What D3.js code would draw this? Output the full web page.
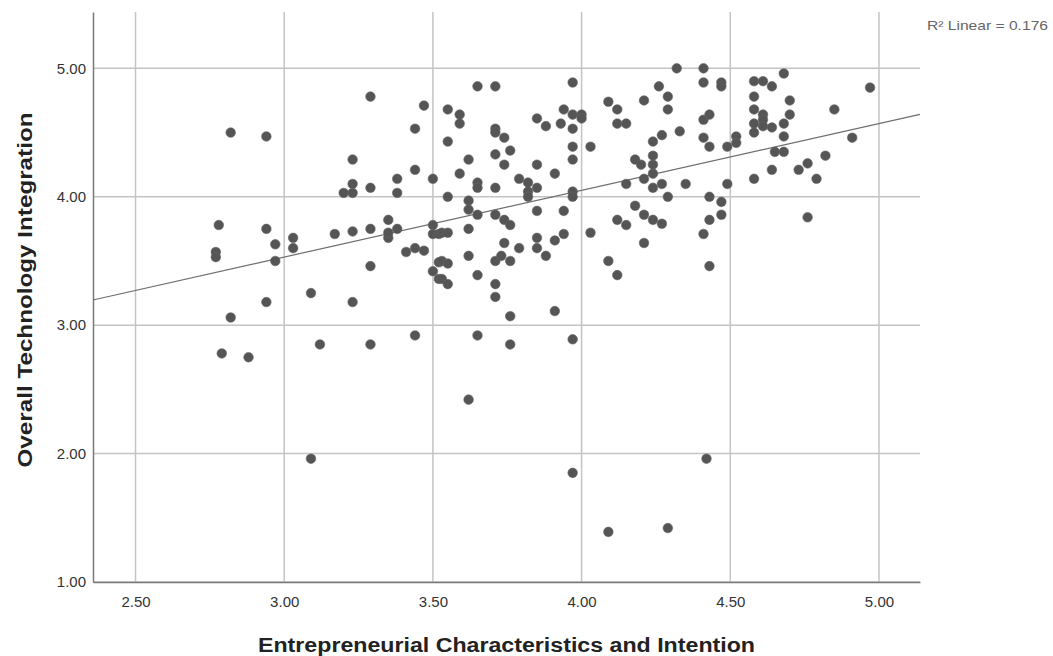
<!DOCTYPE html>
<html>
<head>
<meta charset="utf-8">
<script src="https://cdn.jsdelivr.net/npm/d3@7"></script>
<style>
  body { margin: 0; background: #fff; }
  text { font-family: Arial, "Liberation Sans", sans-serif; }
</style>
</head>
<body>
<div id="chart"></div>
<script>
var width = 1053;
var height = 656;

// values
var xValues = [
  2.77, 2.77, 2.78, 2.82, 2.94, 2.94, 3.03, 3.03, 2.97, 2.97,
  2.94, 2.82, 2.79, 2.88, 3.09, 3.12, 3.23, 3.29, 3.44, 3.09,
  3.29, 3.41, 3.44, 3.47, 3.50, 3.52, 3.52, 3.35, 3.35, 3.35,
  3.29, 3.47, 3.44, 3.23, 3.44, 3.50, 3.38, 3.23, 3.29, 3.20,
  3.23, 3.38, 3.38, 3.50, 3.50, 3.17, 3.23, 3.29, 3.52,
  3.65, 3.71, 3.97, 3.55, 3.59, 3.59, 3.71, 3.71, 3.74, 3.55,
  3.71, 3.76, 3.74, 3.62, 3.59, 3.65, 3.65, 3.71, 3.55, 3.79,
  3.82, 3.85, 3.82, 3.82, 3.85, 3.91, 3.85, 3.88, 3.93, 3.94,
  3.97, 4.00, 4.00, 3.97, 3.97, 3.97, 3.97, 3.97, 4.09, 4.12,
  4.12, 4.15, 4.03, 4.15, 3.62, 3.62, 3.65, 3.53, 3.55, 3.62,
  3.71, 3.74, 3.76, 3.85, 3.94, 4.12, 4.15, 4.03,
  3.74, 3.79, 3.85, 3.85, 3.91, 3.94, 3.88, 3.62, 3.53, 3.55,
  3.53, 3.55, 3.65, 3.71, 3.73, 3.76, 3.71, 3.71, 3.76, 3.91,
  3.65, 3.76, 3.97, 3.62, 3.97, 4.09, 4.09, 4.12,
  4.32, 4.41, 4.41, 4.47, 4.47, 4.26, 4.29, 4.21, 4.29, 4.41,
  4.43, 4.33, 4.27, 4.24, 4.41, 4.43, 4.49, 4.24, 4.24, 4.18,
  4.20, 4.24, 4.21, 4.24, 4.27, 4.35, 4.49, 4.29, 4.43, 4.47,
  4.18, 4.21, 4.24, 4.27, 4.43, 4.47,
  4.68, 4.58, 4.61, 4.64, 4.58, 4.58, 4.61, 4.61, 4.58, 4.58,
  4.61, 4.64, 4.52, 4.52, 4.70, 4.70, 4.68, 4.68, 4.65, 4.68,
  4.85, 4.91, 4.82, 4.76, 4.73, 4.79, 4.64, 4.58, 4.76, 4.97,
  4.42, 4.29, 4.43, 4.41, 4.21
];
var yValues = [
  3.57, 3.53, 3.78, 4.50, 4.47, 3.75, 3.68, 3.60, 3.63, 3.50,
  3.18, 3.06, 2.78, 2.75, 3.25, 2.85, 3.18, 2.85, 2.92, 1.96,
  3.46, 3.57, 3.60, 3.58, 3.42, 3.49, 3.36, 3.68, 3.72, 3.82,
  4.78, 4.71, 4.53, 4.29, 4.21, 4.14, 4.14, 4.10, 4.07, 4.03,
  4.03, 4.03, 3.75, 3.78, 3.71, 3.71, 3.73, 3.75, 3.71,
  4.86, 4.86, 4.89, 4.68, 4.64, 4.57, 4.53, 4.50, 4.46, 4.43,
  4.33, 4.36, 4.25, 4.29, 4.18, 4.11, 4.07, 4.07, 4.00, 4.14,
  4.11, 4.07, 4.04, 4.00, 4.25, 4.18, 4.61, 4.55, 4.57, 4.68,
  4.64, 4.64, 4.61, 4.53, 4.39, 4.29, 4.04, 4.00, 4.74, 4.68,
  4.57, 4.57, 4.39, 4.10, 3.97, 3.90, 3.86, 3.72, 3.72, 3.75,
  3.86, 3.82, 3.78, 3.89, 3.89, 3.82, 3.78, 3.72,
  3.64, 3.60, 3.68, 3.60, 3.66, 3.71, 3.54, 3.54, 3.50, 3.48,
  3.36, 3.32, 3.39, 3.50, 3.54, 3.50, 3.32, 3.22, 3.07, 3.11,
  2.92, 2.85, 2.89, 2.42, 1.85, 1.39, 3.50, 3.39,
  5.00, 5.00, 4.89, 4.89, 4.86, 4.86, 4.78, 4.75, 4.68, 4.60,
  4.64, 4.51, 4.48, 4.43, 4.46, 4.39, 4.39, 4.32, 4.25, 4.29,
  4.25, 4.18, 4.14, 4.07, 4.10, 4.10, 4.10, 4.00, 4.00, 3.96,
  3.93, 3.86, 3.82, 3.79, 3.82, 3.86,
  4.96, 4.90, 4.90, 4.86, 4.78, 4.68, 4.64, 4.60, 4.57, 4.50,
  4.55, 4.54, 4.47, 4.42, 4.75, 4.64, 4.57, 4.47, 4.35, 4.35,
  4.68, 4.46, 4.32, 4.26, 4.21, 4.14, 4.21, 4.14, 3.84, 4.85,
  1.96, 1.42, 3.46, 3.71, 3.64
];
var xTicks = [2.5, 3.0, 3.5, 4.0, 4.5, 5.0];
var yTicks = [1, 2, 3, 4, 5];
var r2Label = "R\u00b2 Linear = 0.176";

var points = xValues.map(function(x, i) {
  return { x: x, y: yValues[i] };
});

// least squares fit line
var mx = d3.mean(xValues);
var my = d3.mean(yValues);
var sxy = d3.sum(points, function(d) { return (d.x - mx) * (d.y - my); });
var sxx = d3.sum(points, function(d) { return (d.x - mx) * (d.x - mx); });
var slope = sxy / sxx;
var intercept = my - slope * mx;

var plotLeft = 93, plotRight = 920, plotTop = 12, plotBottom = 582;
var xMin = 2.357, xMax = 5.138;

var x = d3.scaleLinear().domain([xMin, xMax]).range([plotLeft, plotRight]);
var y = d3.scaleLinear().domain([1, 5.439]).range([plotBottom, plotTop]);

var svg = d3
  .select("#chart")
  .append("svg")
  .attr("width", width)
  .attr("height", height);

// grid
svg.append("g")
  .selectAll("line")
  .data(yTicks)
  .enter()
  .append("line")
  .attr("x1", plotLeft)
  .attr("x2", plotRight)
  .attr("y1", function(d) { return y(d); })
  .attr("y2", function(d) { return y(d); })
  .attr("stroke", "#c4c4c4")
  .attr("stroke-width", 1.5);

svg.append("g")
  .selectAll("line")
  .data(xTicks)
  .enter()
  .append("line")
  .attr("x1", function(d) { return x(d); })
  .attr("x2", function(d) { return x(d); })
  .attr("y1", plotTop)
  .attr("y2", plotBottom)
  .attr("stroke", "#c4c4c4")
  .attr("stroke-width", 1.5);

// axes
var xAxis = d3.axisBottom(x).tickValues(xTicks).tickFormat(d3.format(".2f")).tickSize(0).tickPadding(14);
var yAxis = d3.axisLeft(y).tickValues(yTicks).tickFormat(d3.format(".2f")).tickSize(0).tickPadding(7);

var gx = svg.append("g").attr("transform", "translate(0," + plotBottom + ")").call(xAxis);
var gy = svg.append("g").attr("transform", "translate(" + plotLeft + ",0)").call(yAxis);

[gx, gy].forEach(function(g) {
  g.select(".domain").attr("stroke", "#7a7a7a").attr("stroke-width", 1.5);
  g.selectAll("text").attr("fill", "#333").style("font-size", "15px");
});

// fit line
svg.append("line")
  .attr("x1", x(xMin))
  .attr("y1", y(intercept + slope * xMin))
  .attr("x2", x(xMax))
  .attr("y2", y(intercept + slope * xMax))
  .attr("stroke", "#6e6e6e")
  .attr("stroke-width", 1.2);

// points
svg.append("g")
  .selectAll("circle")
  .data(points)
  .enter()
  .append("circle")
  .attr("cx", function(d) { return x(d.x); })
  .attr("cy", function(d) { return y(d.y); })
  .attr("r", 4.8)
  .attr("fill", "#555")
  .attr("stroke", "#666")
  .attr("stroke-width", 0.6);

// titles
svg.append("text")
  .attr("x", (plotLeft + plotRight) / 2)
  .attr("y", 652)
  .attr("text-anchor", "middle")
  .attr("fill", "#222")
  .attr("textLength", 497)
  .attr("lengthAdjust", "spacingAndGlyphs")
  .style("font-size", "20px")
  .style("font-weight", "bold")
  .text("Entrepreneurial Characteristics and Intention");

svg.append("text")
  .attr("transform", "translate(32,290) rotate(-90)")
  .attr("text-anchor", "middle")
  .attr("fill", "#222")
  .attr("textLength", 355)
  .attr("lengthAdjust", "spacingAndGlyphs")
  .style("font-size", "21px")
  .style("font-weight", "bold")
  .text("Overall Technology Integration");

svg.append("text")
  .attr("x", 927)
  .attr("y", 30)
  .attr("fill", "#666")
  .attr("textLength", 121)
  .attr("lengthAdjust", "spacingAndGlyphs")
  .style("font-size", "13px")
  .text(r2Label);
</script>
</body>
</html>
